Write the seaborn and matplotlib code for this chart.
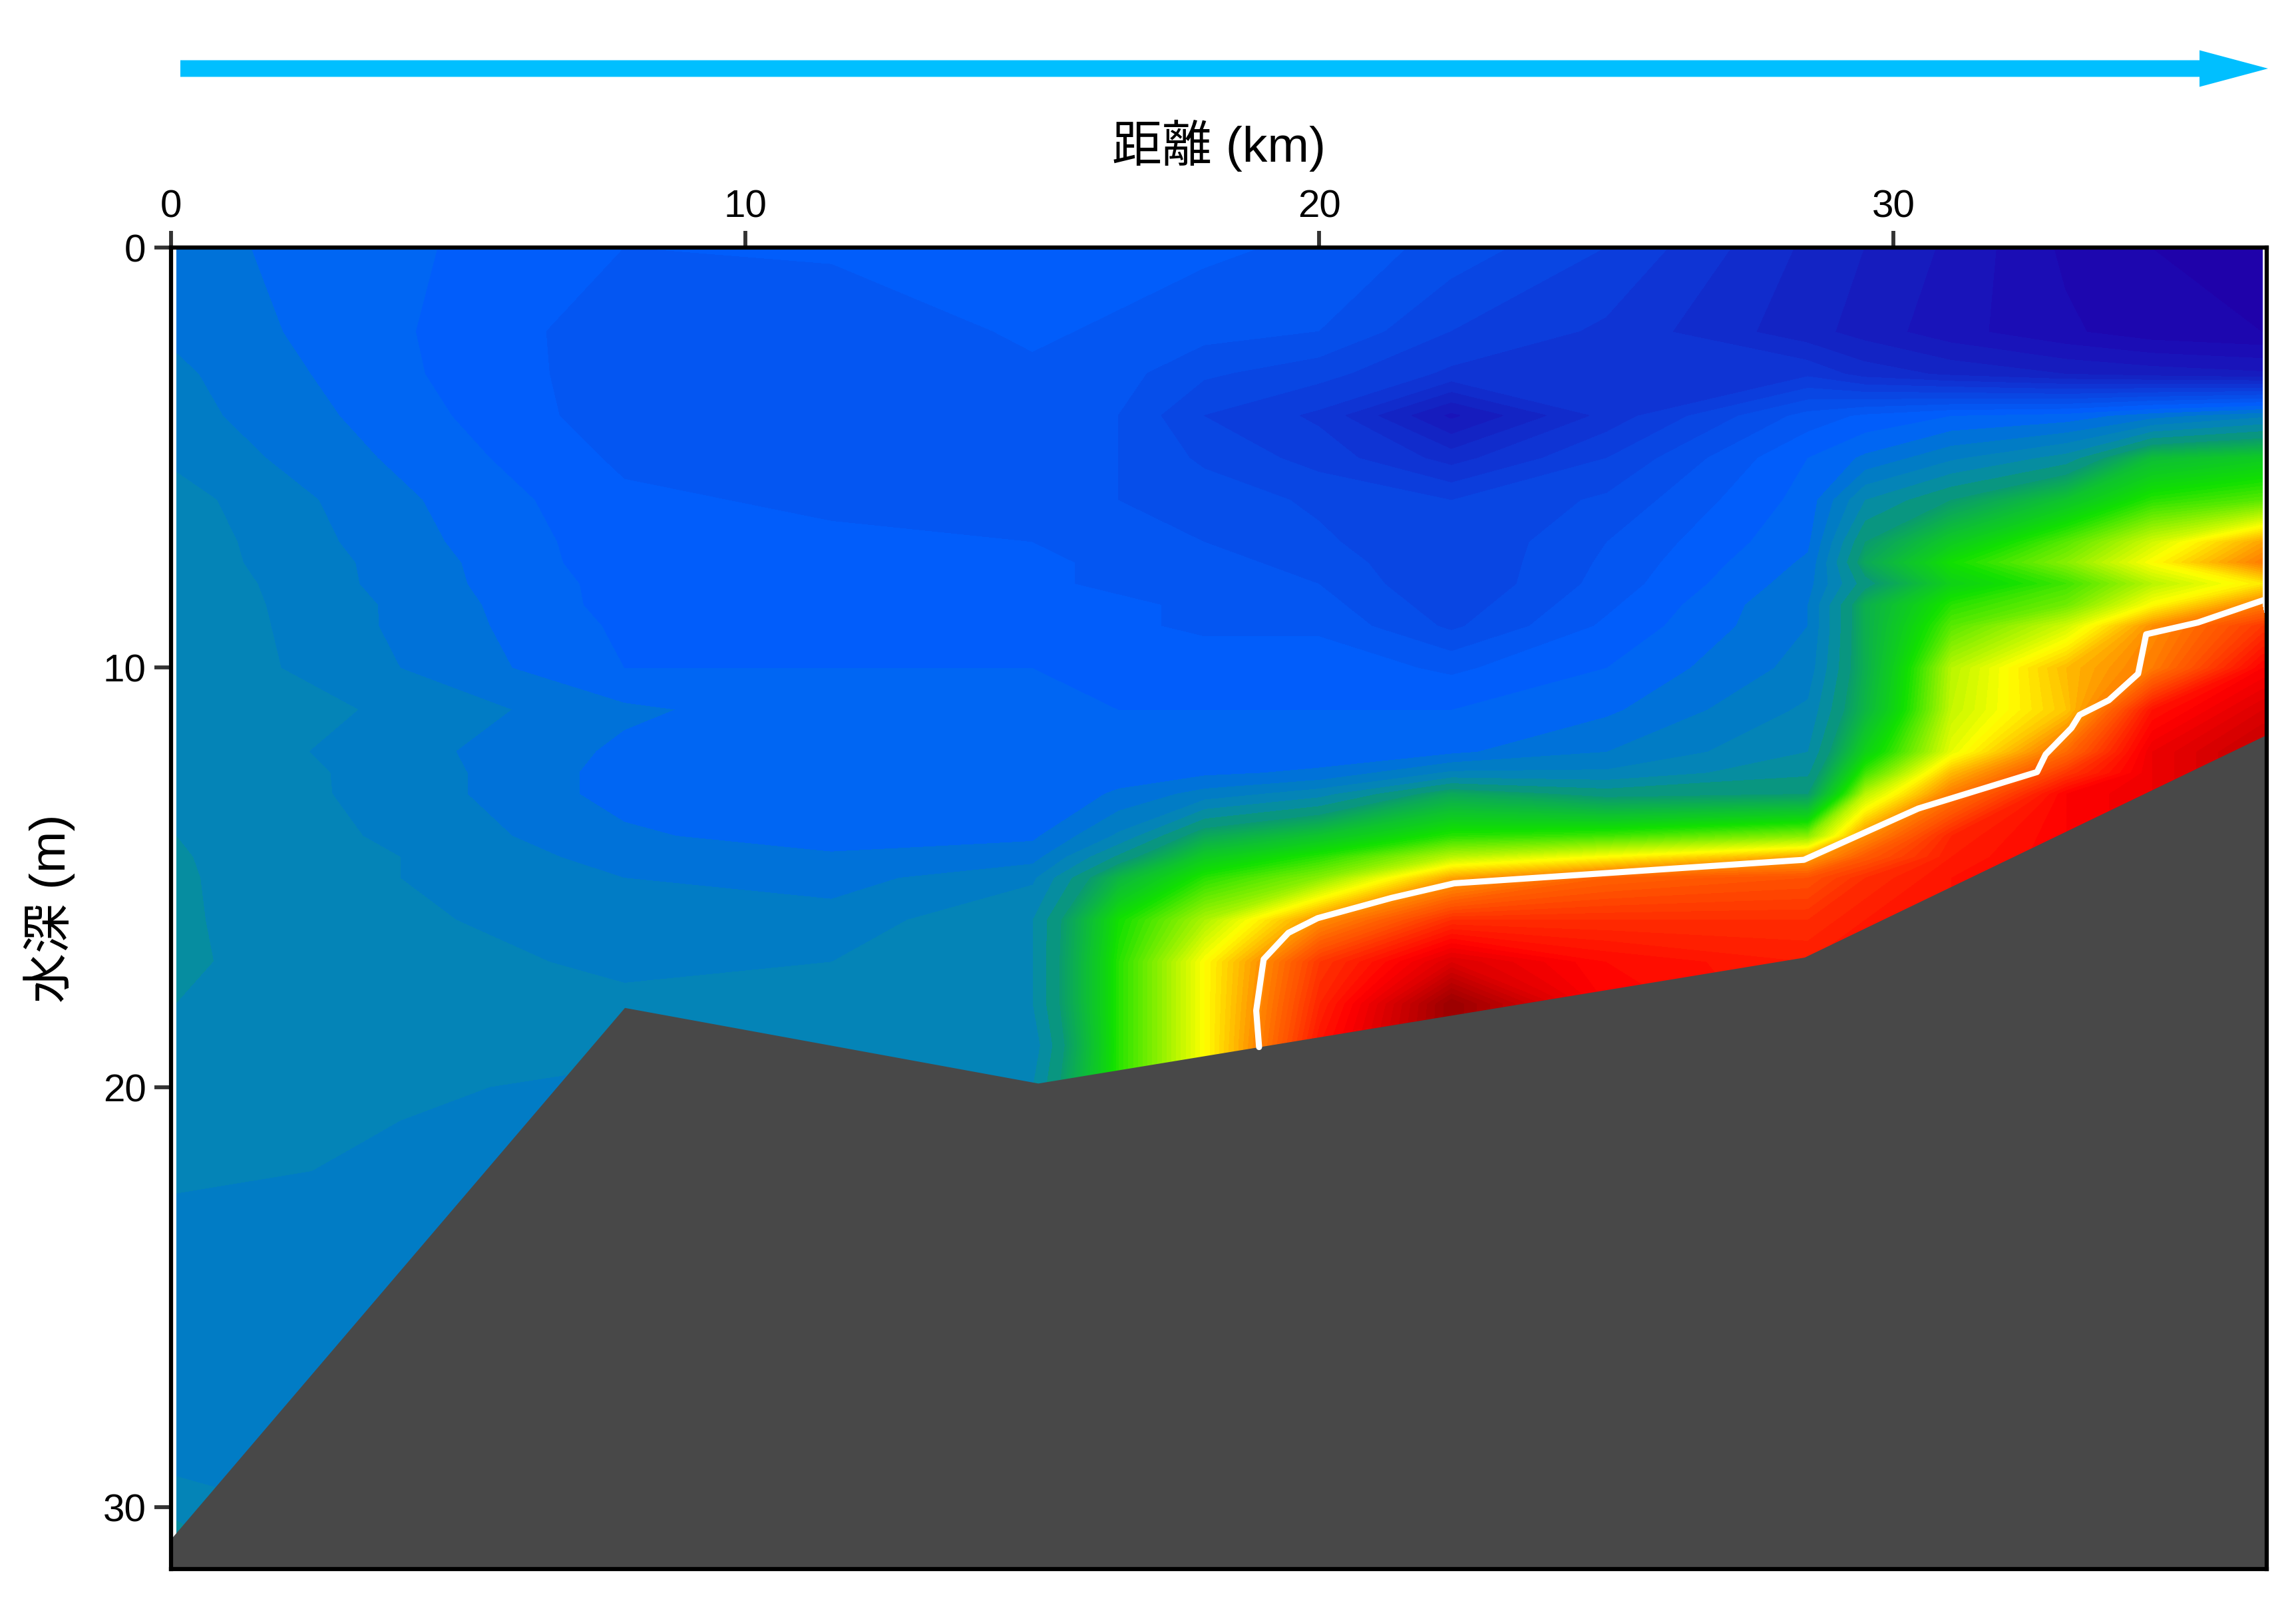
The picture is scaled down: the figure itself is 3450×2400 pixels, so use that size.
import numpy as np
import pandas as pd
import seaborn as sns
import matplotlib.pyplot as plt
from matplotlib.colors import LinearSegmentedColormap, Normalize
from matplotlib.patches import FancyArrow
from matplotlib.transforms import IdentityTransform

# ----------------------
# Section data (values per station, top to bottom)
# ----------------------
depths = [0, 2, 3, 4, 5, 6, 7, 7.5, 8, 8.5, 9, 10, 11, 12, 12.5, 13, 14, 14.5, 15, 16,
          17, 18, 19, 20, 22, 23, 25, 28, 29.5, 31.5]
stations = [0.1, 4, 7.9, 11.5, 15, 16.5, 18, 20, 22.3, 25, 28.5, 29.5, 31, 33, 34.5, 36.42, 36.5]

st_00 = [5.65, 5.55, 5.45, 5.4, 5.3, 5.15, 5.1, 5.1, 5.05, 5.05, 5.03, 5.03, 5.03, 5.03, 5.03, 5.02, 5.0, 4.98, 4.97, 4.97,
         4.97, 5.0, 5.02, 5.02, 5.02, 5.45, 5.5, 5.5, 5.2, 4.7]
st_04 = [5.95, 5.97, 5.95, 5.88, 5.8, 5.7, 5.65, 5.6, 5.6, 5.55, 5.55, 5.5, 5.3, 5.4, 5.35, 5.35, 5.3, 5.25, 5.25, 5.2,
         5.15, 5.1, 5.1, 5.15, 5.4, 5.5, 5.5, 5.5, 5.5, 5.5]
st_08 = [6.25, 6.4, 6.4, 6.4, 6.3, 6.2, 6.15, 6.15, 6.1, 6.1, 6.05, 6.0, 5.7, 5.8, 5.85, 5.85, 5.7, 5.6, 5.5, 5.4,
         5.3, 5.2, 5.1, 5.4, 5.5, 5.5, 5.5, 5.5, 5.5, 5.5]
st_12 = [6.2, 6.45, 6.45, 6.45, 6.4, 6.3, 6.2, 6.15, 6.1, 6.05, 6.05, 6.0, 5.9, 6.0, 6.0, 6.0, 5.9, 5.7, 5.6, 5.4,
         5.25, 5.1, 5.0, 5.0, 5.0, 5.0, 5.0, 5.0, 5.0, 5.0]
st_15 = [6.0, 6.2, 6.3, 6.4, 6.35, 6.3, 6.25, 6.2, 6.2, 6.15, 6.1, 6.0, 6.0, 6.0, 6.0, 6.0, 5.8, 5.6, 5.3, 5.0,
         5.0, 5.0, 5.15, 5.0, 5.0, 5.0, 5.0, 5.0, 5.0, 5.0]
st_16 = [6.1, 6.3, 6.4, 6.5, 6.5, 6.5, 6.4, 6.3, 6.3, 6.2, 6.2, 6.1, 6.0, 6.0, 5.9, 5.7, 5.2, 4.7, 4.1, 3.5,
         3.4, 3.4, 3.4, 3.4, 3.4, 3.4, 3.4, 3.4, 3.4, 3.4]
st_18 = [6.2, 6.4, 6.7, 7.0, 6.8, 6.6, 6.5, 6.4, 6.4, 6.3, 6.3, 6.1, 6.0, 5.95, 5.8, 5.4, 4.3, 3.8, 3.4, 2.85,
         2.5, 2.5, 2.5, 2.5, 2.5, 2.5, 2.5, 2.5, 2.5, 2.5]
st_20 = [6.3, 6.5, 6.9, 7.3, 7.1, 6.8, 6.7, 6.6, 6.5, 6.4, 6.3, 6.1, 6.0, 5.9, 5.7, 5.1, 3.9, 3.4, 3.0, 2.0,
         1.5, 1.4, 1.3, 1.3, 1.3, 1.3, 1.3, 1.3, 1.3, 1.3]
st_22 = [6.6, 7.0, 7.3, 8.3, 7.6, 7.0, 7.0, 7.0, 7.0, 6.9, 6.8, 6.3, 6.0, 5.8, 5.2, 4.3, 3.4, 2.8, 2.1, 1.45,
         1.0, 0.6, 0.6, 0.6, 0.6, 0.6, 0.6, 0.6, 0.6, 0.6]
st_25 = [7.0, 7.3, 7.4, 7.4, 7.0, 6.7, 6.5, 6.45, 6.4, 6.3, 6.2, 6.0, 5.8, 5.5, 5.2, 4.6, 3.3, 2.5, 1.75, 1.45,
         1.25, 1.2, 1.2, 1.2, 1.2, 1.2, 1.2, 1.2, 1.2, 1.2]
st_28 = [7.8, 7.9, 7.3, 6.4, 6.0, 5.9, 5.8, 5.7, 5.6, 5.5, 5.5, 5.4, 5.2, 5.0, 4.8, 4.5, 3.0, 2.1, 1.65, 1.45,
         1.35, 1.35, 1.35, 1.35, 1.35, 1.35, 1.35, 1.35, 1.35, 1.35]
st_29 = [8.0, 8.1, 7.6, 6.2, 5.7, 5.0, 4.5, 4.3, 4.6, 4.2, 4.2, 4.2, 4.1, 3.7, 3.3, 2.8, 2.0, 1.7, 1.45, 1.35,
         1.35, 1.35, 1.35, 1.35, 1.35, 1.35, 1.35, 1.35, 1.35, 1.35]
st_31 = [8.3, 8.4, 7.8, 6.0, 5.3, 4.5, 3.8, 3.5, 3.7, 3.4, 3.2, 2.8, 2.75, 2.6, 2.2, 1.9, 1.4, 1.35, 1.3, 1.3,
         1.3, 1.3, 1.3, 1.3, 1.3, 1.3, 1.3, 1.3, 1.3, 1.3]
st_33 = [8.8, 8.7, 8.0, 5.9, 4.9, 3.9, 3.2, 3.0, 3.3, 3.1, 2.7, 2.2, 2.25, 1.8, 1.5, 1.2, 1.2, 1.2, 1.2, 1.2,
         1.2, 1.2, 1.2, 1.2, 1.2, 1.2, 1.2, 1.2, 1.2, 1.2]
st_34 = [9.0, 8.9, 8.1, 5.6, 4.0, 3.4, 2.7, 2.5, 2.8, 2.5, 2.0, 1.9, 1.3, 1.1, 1.1, 1.1, 1.1, 1.1, 1.1, 1.1,
         1.1, 1.1, 1.1, 1.1, 1.1, 1.1, 1.1, 1.1, 1.1, 1.1]
st_36 = [9.2, 9.0, 8.2, 5.3, 3.8, 3.2, 2.1, 1.9, 2.4, 1.9, 1.5, 1.2, 1.0, 0.85, 0.85, 0.85, 0.85, 0.85, 0.85, 0.85,
         0.85, 0.85, 0.85, 0.85, 0.85, 0.85, 0.85, 0.85, 0.85, 0.85]
# edge column, only filled under the isoline
st_edge = [np.nan] * 10 + [1.5, 1.2, 1.0, 0.85, 0.85, 0.85, 0.85, 0.85, 0.85, 0.85,
                           0.85, 0.85, 0.85, 0.85, 0.85, 0.85, 0.85, 0.85, 0.85, 0.85]

# sea bed
bed_x = [0, 7.9, 15.1, 28.45, 36.5]
bed_z = [30.75, 18.1, 19.9, 16.9, 11.6]

# white isoline
line_x = [18.95, 18.9, 19.03, 19.46, 19.97, 21.25, 22.35, 28.44, 30.43, 32.5, 32.65, 33.1, 33.24, 33.75, 34.26,
          34.4, 35.3, 36.5]
line_z = [19.04, 18.17, 16.95, 16.32, 15.97, 15.49, 15.14, 14.58, 13.36, 12.49, 12.07, 11.44, 11.13, 10.78, 10.15,
          9.21, 8.93, 8.37]

x_ticks = [0, 10, 20, 30]
z_ticks = [0, 10, 20, 30]

# colour scale of the section
color_vals = [0.6, 1.2, 2.0, 2.5, 3.5, 4.5, 5.0, 5.5, 6.0, 6.5, 7.0, 7.5, 8.0, 8.5, 9.2]
color_hex = ["#9a0000", "#ff0000", "#ff9000", "#ffff00", "#10e000", "#0a9a70", "#0588b0", "#0078cc",
             "#0060ff", "#0552ee", "#0a42e0", "#1030d0", "#1420c0", "#1a10b8", "#2000a8"]

# ----------------------
# Plot
# ----------------------
sns.set_theme(style="ticks")
plt.rcParams["font.family"] = ["Liberation Sans", "Noto Sans CJK JP"]

fig = plt.figure(figsize=(11.5, 8), dpi=300)
ax = fig.add_axes([257 / 3450, 1 - 2358 / 2400, (3406 - 257) / 3450, (2358 - 372) / 2400])

values = np.array([st_00, st_04, st_08, st_12, st_15, st_16, st_18, st_20, st_22, st_25,
                   st_28, st_29, st_31, st_33, st_34, st_36, st_edge]).T
values = np.ma.masked_invalid(values)

norm = Normalize(color_vals[0], color_vals[-1])
cmap = LinearSegmentedColormap.from_list(
    "section", [(norm(v), c) for v, c in zip(color_vals, color_hex)], N=512)
levels = np.r_[np.arange(0.5, 4.5, 0.05), np.arange(4.5, 9.5, 0.25)]
mids = (levels[:-1] + levels[1:]) / 2
ax.contourf(stations, depths, values, levels=levels, colors=[cmap(norm(m)) for m in mids], antialiased=False)

# sea bed on top of the field
ax.fill_between(bed_x, bed_z, 32, color="#484848", lw=0, zorder=3)

line_df = pd.DataFrame({"x": line_x, "z": line_z})
sns.lineplot(data=line_df, x="x", y="z", sort=False, estimator=None, color="white", lw=2.2, ax=ax, zorder=4)

ax.set_xlim(0, 36.5)
ax.set_ylim(31.47, 0)
ax.xaxis.tick_top()
ax.xaxis.set_label_position("top")
ax.set_xticks(x_ticks)
ax.set_yticks(z_ticks)
ax.tick_params(length=6, width=1.4, color="#333333", labelsize=14, labelcolor="black", pad=3)
ax.tick_params(axis="x", pad=2)
ax.set_xlabel("距離 (km)", fontsize=18, labelpad=10, color="black")
ax.set_ylabel("水深 (m)", fontsize=18, labelpad=10, color="black")
for side in ax.spines.values():
    side.set_linewidth(1.5)
    side.set_color("black")
    side.set_zorder(6)

# flow direction arrow above the section
fig.add_artist(FancyArrow(271, 2400 - 103, 3408 - 271, 0, width=25, head_width=55, head_length=103,
                          length_includes_head=True, color="#00BFFF", lw=0, transform=IdentityTransform()))

fig.savefig("out.png", dpi=300)
